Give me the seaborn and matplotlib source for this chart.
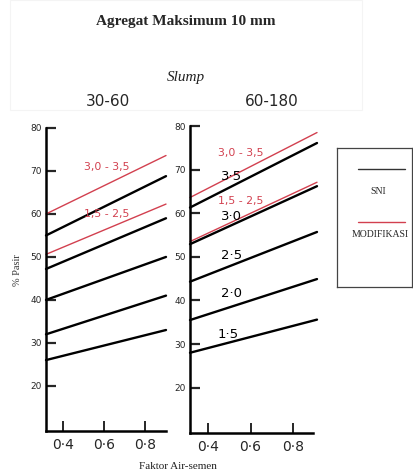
import numpy as np
import pandas as pd
import matplotlib
matplotlib.use("Agg")
import matplotlib.pyplot as plt
import seaborn as sns
from matplotlib.patches import Rectangle
from matplotlib.lines import Line2D

# ---------------- data ----------------
x_left = [0.317, 0.90]
x_right = [0.313, 0.915]

left_sni_start = [55.0, 47.2, 40.0, 32.0, 26.0]
left_sni_end = [68.8, 59.0, 50.0, 41.0, 33.0]
left_mod_start = [60.0, 50.6]
left_mod_end = [73.6, 62.3]

right_sni_names = ["3·5", "3·0", "2·5", "2·0", "1·5"]
right_sni_start = [61.3, 52.9, 44.3, 35.5, 28.0]
right_sni_end = [76.1, 66.2, 55.7, 44.9, 35.6]
right_mod_start = [63.6, 53.5]
right_mod_end = [78.5, 67.1]

mod_names = ["3,0 - 3,5", "1,5 - 2,5"]
panel_titles = ["30-60", "60-180"]
y_ticks = [20, 30, 40, 50, 60, 70, 80]
x_ticks = [0.4, 0.6, 0.8]
x_tick_labels = ["0·4", "0·6", "0·8"]

RED = "#d2404f"


def make_df(xs, starts, ends, prefix):
    rows = []
    for i, (s, e) in enumerate(zip(starts, ends)):
        rows.append({"x": xs[0], "y": s, "line": f"{prefix}{i}"})
        rows.append({"x": xs[1], "y": e, "line": f"{prefix}{i}"})
    return pd.DataFrame(rows)


sns.set_style("white")
plt.rcParams["font.family"] = ["DejaVu Sans"]

W, H = 413, 473
fig = plt.figure(figsize=(W / 100, H / 100), dpi=100)


def px_axes(x0, y_top, x1, y_bot):
    return fig.add_axes([x0 / W, 1 - y_bot / H, (x1 - x0) / W, (y_bot - y_top) / H])


# faint background box around the title area
fig.patches.append(Rectangle((10 / W, 1 - 110 / H), 352 / W, 110 / H, transform=fig.transFigure,
                             fill=False, ec="#f4f4f4", lw=0.8, zorder=0))

axL = px_axes(46, 128, 166, 431)
axR = px_axes(190, 126, 317, 433)

panels = [
    (axL, x_left, left_sni_start, left_sni_end, left_mod_start, left_mod_end, (9.5, 80), 0.902),
    (axR, x_right, right_sni_start, right_sni_end, right_mod_start, right_mod_end, (9.6, 80), 0.896),
]

for ax, xs, ss, se, ms, me, ylim, xend in panels:
    d_sni = make_df(xs, ss, se, "s")
    d_mod = make_df(xs, ms, me, "m")
    sns.lineplot(data=d_sni, x="x", y="y", units="line", estimator=None,
                 color="black", lw=1.7, ax=ax, legend=False)
    sns.lineplot(data=d_mod, x="x", y="y", units="line", estimator=None,
                 color=RED, lw=1.0, ax=ax, legend=False)
    ax.set_xlim(xs[0], xs[1])
    ax.set_ylim(*ylim)
    for s in ["top", "right"]:
        ax.spines[s].set_visible(False)
    ax.spines["left"].set_linewidth(1.8)
    ax.spines["bottom"].set_linewidth(1.8)
    ax.spines["left"].set_color("black")
    ax.spines["bottom"].set_color("black")
    ax.spines["left"].set_bounds(ylim[0], 80)
    ax.spines["bottom"].set_bounds(xs[0], xend)
    ax.set_yticks(y_ticks)
    ax.set_yticklabels([str(v) for v in y_ticks], fontsize=6.5)
    ax.set_xticks(x_ticks)
    ax.set_xticklabels(x_tick_labels, fontsize=10)
    ax.tick_params(axis="y", direction="in", length=7, width=1.6, pad=3, left=True)
    ax.tick_params(axis="x", direction="in", length=7, width=1.4, pad=5, bottom=True)
    ax.set_xlabel("")
    ax.set_ylabel("")
    ax.patch.set_alpha(0)
    for ln in ax.lines:
        ln.set_clip_on(False)

# red labels
axL.text(0.61, 70.9, mod_names[0], color=RED, fontsize=7.8, ha="center", va="center")
axL.text(0.61, 60.0, mod_names[1], color=RED, fontsize=7.8, ha="center", va="center")
axR.text(0.555, 73.8, mod_names[0], color=RED, fontsize=7.8, ha="center", va="center")
axR.text(0.555, 62.7, mod_names[1], color=RED, fontsize=7.8, ha="center", va="center")

# black slump labels in the right panel
lab_y = [68.5, 59.3, 50.4, 41.5, 32.3]
lab_x = [0.512, 0.512, 0.512, 0.512, 0.495]
for nm, lx, ly in zip(right_sni_names, lab_x, lab_y):
    axR.text(lx, ly, nm, color="black", fontsize=9.5, ha="center", va="center")

# titles
fig.text(186 / W, 1 - 21 / H, "Agregat Maksimum 10 mm", ha="center", va="center",
         fontsize=11, fontweight="bold", family="Liberation Serif")
fig.text(186 / W, 1 - 77 / H, "Slump", ha="center", va="center", fontsize=11,
         style="italic", family="Liberation Serif", color="#222222")
fig.text(108 / W, 1 - 101 / H, panel_titles[0], ha="center", va="center", fontsize=11)
fig.text(272 / W, 1 - 101 / H, panel_titles[1], ha="center", va="center", fontsize=11)

fig.text(17 / W, 1 - 270 / H, "% Pasir", rotation=90, ha="center", va="center",
         fontsize=7.5, family="Liberation Serif", color="#333333")
fig.text(178 / W, 1 - 466 / H, "Faktor Air-semen", ha="center", va="center",
         fontsize=8, family="Liberation Serif", color="#222222")

# legend box
lax = px_axes(337, 148, 412, 287)
lax.set_xlim(0, 1)
lax.set_ylim(0, 1)
lax.set_xticks([])
lax.set_yticks([])
for s in lax.spines.values():
    s.set_color("#444444")
    s.set_linewidth(0.9)
lax.add_line(Line2D([21 / 75, 68 / 75], [1 - 21 / 139, 1 - 21 / 139], color="#333333", lw=1.0))
lax.text(0.55, 1 - 44 / 139, "SNI", ha="center", va="center", fontsize=7,
         family="Liberation Serif")
lax.add_line(Line2D([21 / 75, 68 / 75], [1 - 74 / 139, 1 - 74 / 139], color=RED, lw=1.0))
lax.text(0.57, 1 - 86 / 139, "MODIFIKASI", ha="center", va="center", fontsize=7,
         family="Liberation Serif")

fig.savefig("out.png", dpi=100)
